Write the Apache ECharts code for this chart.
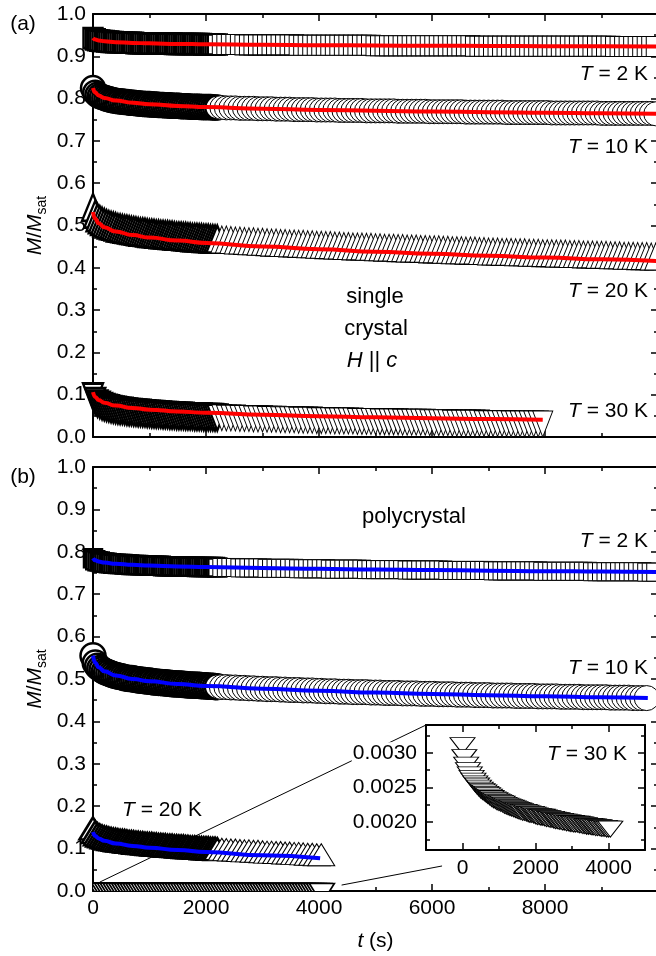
<!DOCTYPE html>
<html>
<head>
<meta charset="utf-8">
<script src="https://cdn.jsdelivr.net/npm/echarts@6/dist/echarts.min.js"></script>
<style>
  html, body { margin: 0; padding: 0; background: #fff; }
  #chart { width: 656px; height: 956px; }
</style>
</head>
<body>
<div id="chart"></div>
<script>
// ---------- sampling times (s) ----------
const tDense = [0,40,80,120,160,200,240,280,320,360,
  400,440,480,520,560,600,640,680,720,760,
  800,840,880,920,960,1000,1040,1080,1120,1160,
  1200,1240,1280,1320,1360,1400,1440,1480,1520,1560,
  1600,1640,1680,1720,1760,1800,1840,1880,1920,1960,
  2000,2040,2080,2120,2160,2200];
const tSparse = [2280,2360,2440,2520,2600,2680,2760,2840,2920,3000,
  3080,3160,3240,3320,3400,3480,3560,3640,3720,3800,
  3880,3960,4040,4120,4200,4280,4360,4440,4520,4600,
  4680,4760,4840,4920,5000,5080,5160,5240,5320,5400,
  5480,5560,5640,5720,5800,5880,5960,6040,6120,6200,
  6280,6360,6440,6520,6600,6680,6760,6840,6920,7000,
  7080,7160,7240,7320,7400,7480,7560,7640,7720,7800,
  7880,7960,8040,8120,8200,8280,8360,8440,8520,8600,
  8680,8760,8840,8920,9000,9080,9160,9240,9320,9400,
  9480,9560,9640,9720,9800,9880,9960];
const t30 = [0,50,100,150,200,250,300,350,400,450,
  500,550,600,650,700,750,800,850,900,950,
  1000,1050,1100,1150,1200,1250,1300,1350,1400,1450,
  1500,1550,1600,1650,1700,1750,1800,1850,1900,1950,
  2000,2050,2100,2150,2200,2250,2300,2350,2400,2450,
  2500,2550,2600,2650,2700,2750,2800,2850,2900,2950,
  3000,3050,3100,3150,3200,3250,3300,3350,3400,3450,
  3500,3550,3600,3650,3700,3750,3800,3850,3900,3950,
  4000,4050];

// ---------- (a) single crystal, M/Msat ----------
const sc2K_dense = [0.943,0.940,0.938,0.937,0.936,0.936,0.935,0.935,0.934,0.934,
  0.933,0.933,0.933,0.933,0.932,0.932,0.932,0.932,0.932,0.931,
  0.931,0.931,0.931,0.931,0.931,0.931,0.930,0.930,0.930,0.930,
  0.930,0.930,0.930,0.930,0.930,0.930,0.929,0.929,0.929,0.929,
  0.929,0.929,0.929,0.929,0.929,0.929,0.929,0.929,0.929,0.928,
  0.928,0.928,0.928,0.928,0.928,0.928];
const sc2K_sparse = [0.928,0.928,0.928,0.928,0.928,0.927,0.927,0.927,0.927,0.927,
  0.927,0.927,0.927,0.927,0.927,0.927,0.927,0.926,0.926,0.926,
  0.926,0.926,0.926,0.926,0.926,0.926,0.926,0.926,0.926,0.926,
  0.926,0.926,0.926,0.926,0.925,0.925,0.925,0.925,0.925,0.925,
  0.925,0.925,0.925,0.925,0.925,0.925,0.925,0.925,0.925,0.925,
  0.925,0.925,0.925,0.925,0.925,0.925,0.924,0.924,0.924,0.924,
  0.924,0.924,0.924,0.924,0.924,0.924,0.924,0.924,0.924,0.924,
  0.924,0.924,0.924,0.924,0.924,0.924,0.924,0.924,0.924,0.924,
  0.924,0.924,0.924,0.924,0.924,0.924,0.924,0.923,0.923,0.923,
  0.923,0.923,0.923,0.923,0.923,0.923,0.923];
const sc10K_dense = [0.825,0.814,0.809,0.806,0.804,0.802,0.800,0.799,0.797,0.796,
  0.795,0.794,0.794,0.793,0.792,0.792,0.791,0.790,0.790,0.789,
  0.789,0.788,0.788,0.787,0.787,0.787,0.786,0.786,0.786,0.785,
  0.785,0.785,0.784,0.784,0.784,0.783,0.783,0.783,0.783,0.782,
  0.782,0.782,0.782,0.781,0.781,0.781,0.781,0.781,0.780,0.780,
  0.780,0.780,0.780,0.779,0.779,0.779];
const sc10K_sparse = [0.779,0.778,0.778,0.778,0.777,0.777,0.777,0.777,0.776,0.776,
  0.776,0.776,0.775,0.775,0.775,0.775,0.774,0.774,0.774,0.774,
  0.774,0.773,0.773,0.773,0.773,0.773,0.772,0.772,0.772,0.772,
  0.772,0.772,0.771,0.771,0.771,0.771,0.771,0.771,0.771,0.770,
  0.770,0.770,0.770,0.770,0.770,0.770,0.769,0.769,0.769,0.769,
  0.769,0.769,0.769,0.769,0.768,0.768,0.768,0.768,0.768,0.768,
  0.768,0.768,0.768,0.767,0.767,0.767,0.767,0.767,0.767,0.767,
  0.767,0.767,0.767,0.766,0.766,0.766,0.766,0.766,0.766,0.766,
  0.766,0.766,0.766,0.766,0.765,0.765,0.765,0.765,0.765,0.765,
  0.765,0.765,0.765,0.765,0.765,0.765,0.764];
const sc20K_dense = [0.532,0.516,0.508,0.503,0.499,0.496,0.493,0.491,0.489,0.488,
  0.486,0.484,0.483,0.482,0.481,0.480,0.479,0.478,0.477,0.476,
  0.475,0.474,0.474,0.473,0.472,0.471,0.471,0.470,0.469,0.469,
  0.468,0.468,0.467,0.467,0.466,0.466,0.465,0.464,0.464,0.464,
  0.463,0.463,0.462,0.462,0.461,0.461,0.461,0.460,0.460,0.459,
  0.459,0.459,0.458,0.458,0.457,0.457];
const sc20K_sparse = [0.456,0.456,0.455,0.454,0.454,0.453,0.452,0.452,0.451,0.451,
  0.450,0.449,0.449,0.448,0.448,0.447,0.447,0.446,0.446,0.445,
  0.445,0.444,0.444,0.443,0.443,0.442,0.442,0.441,0.441,0.440,
  0.440,0.440,0.439,0.439,0.438,0.438,0.437,0.437,0.437,0.436,
  0.436,0.435,0.435,0.435,0.434,0.434,0.433,0.433,0.433,0.432,
  0.432,0.431,0.431,0.431,0.430,0.430,0.430,0.429,0.429,0.428,
  0.428,0.428,0.427,0.427,0.427,0.426,0.426,0.426,0.425,0.425,
  0.425,0.424,0.424,0.424,0.423,0.423,0.423,0.422,0.422,0.422,
  0.421,0.421,0.421,0.420,0.420,0.420,0.419,0.419,0.419,0.418,
  0.418,0.418,0.417,0.417,0.417,0.416,0.416];
const sc30K_dense = [0.106,0.095,0.089,0.086,0.083,0.081,0.079,0.078,0.076,0.075,
  0.074,0.073,0.072,0.072,0.071,0.070,0.069,0.069,0.068,0.068,
  0.067,0.067,0.066,0.066,0.065,0.065,0.064,0.064,0.063,0.063,
  0.063,0.062,0.062,0.062,0.061,0.061,0.061,0.060,0.060,0.060,
  0.060,0.059,0.059,0.059,0.059,0.058,0.058,0.058,0.058,0.057,
  0.057,0.057,0.057,0.057,0.056,0.056];
const sc30K_sparse = [0.056,0.055,0.055,0.055,0.054,0.054,0.054,0.053,0.053,0.053,
  0.052,0.052,0.052,0.051,0.051,0.051,0.051,0.050,0.050,0.050,
  0.050,0.049,0.049,0.049,0.049,0.048,0.048,0.048,0.048,0.048,
  0.047,0.047,0.047,0.047,0.047,0.046,0.046,0.046,0.046,0.046,
  0.045,0.045,0.045,0.045,0.045,0.045,0.044,0.044,0.044,0.044,
  0.044,0.043,0.043,0.043,0.043,0.043,0.043,0.043,0.042,0.042,
  0.042,0.042,0.042,0.042,0.041,0.041,0.041,0.041,0.041,0.041,
  0.041,0.041];

// ---------- (b) polycrystal, M/Msat ----------
const pc2K_dense = [0.785,0.780,0.778,0.777,0.775,0.775,0.774,0.773,0.773,0.772,
  0.772,0.771,0.771,0.771,0.770,0.770,0.770,0.769,0.769,0.769,
  0.769,0.768,0.768,0.768,0.768,0.767,0.767,0.767,0.767,0.767,
  0.767,0.766,0.766,0.766,0.766,0.766,0.766,0.766,0.765,0.765,
  0.765,0.765,0.765,0.765,0.765,0.765,0.764,0.764,0.764,0.764,
  0.764,0.764,0.764,0.764,0.764,0.763];
const pc2K_sparse = [0.763,0.763,0.763,0.763,0.762,0.762,0.762,0.762,0.762,0.762,
  0.761,0.761,0.761,0.761,0.761,0.761,0.761,0.760,0.760,0.760,
  0.760,0.760,0.760,0.760,0.759,0.759,0.759,0.759,0.759,0.759,
  0.759,0.759,0.758,0.758,0.758,0.758,0.758,0.758,0.758,0.758,
  0.758,0.757,0.757,0.757,0.757,0.757,0.757,0.757,0.757,0.757,
  0.756,0.756,0.756,0.756,0.756,0.756,0.756,0.756,0.756,0.756,
  0.755,0.755,0.755,0.755,0.755,0.755,0.755,0.755,0.755,0.755,
  0.755,0.754,0.754,0.754,0.754,0.754,0.754,0.754,0.754,0.754,
  0.754,0.754,0.753,0.753,0.753,0.753,0.753,0.753,0.753,0.753,
  0.753,0.753,0.753,0.753,0.752,0.752,0.752];
const pc10K_dense = [0.555,0.538,0.530,0.525,0.522,0.518,0.516,0.514,0.512,0.510,
  0.508,0.507,0.506,0.505,0.503,0.502,0.501,0.501,0.500,0.499,
  0.498,0.497,0.497,0.496,0.495,0.495,0.494,0.493,0.493,0.492,
  0.492,0.491,0.491,0.490,0.490,0.489,0.489,0.488,0.488,0.488,
  0.487,0.487,0.486,0.486,0.486,0.485,0.485,0.485,0.484,0.484,
  0.484,0.483,0.483,0.483,0.482,0.482];
const pc10K_sparse = [0.481,0.481,0.480,0.480,0.479,0.479,0.478,0.478,0.477,0.477,
  0.476,0.476,0.476,0.475,0.475,0.474,0.474,0.474,0.473,0.473,
  0.473,0.472,0.472,0.471,0.471,0.471,0.470,0.470,0.470,0.469,
  0.469,0.469,0.469,0.468,0.468,0.468,0.467,0.467,0.467,0.467,
  0.466,0.466,0.466,0.466,0.465,0.465,0.465,0.465,0.464,0.464,
  0.464,0.464,0.463,0.463,0.463,0.463,0.462,0.462,0.462,0.462,
  0.461,0.461,0.461,0.461,0.461,0.460,0.460,0.460,0.460,0.460,
  0.459,0.459,0.459,0.459,0.459,0.458,0.458,0.458,0.458,0.458,
  0.457,0.457,0.457,0.457,0.457,0.457,0.456,0.456,0.456,0.456,
  0.456,0.455,0.455,0.455,0.455];
const pc20K_dense = [0.139,0.130,0.125,0.122,0.120,0.118,0.117,0.115,0.114,0.113,
  0.112,0.111,0.110,0.110,0.109,0.108,0.107,0.107,0.106,0.105,
  0.105,0.104,0.104,0.103,0.103,0.102,0.102,0.101,0.101,0.100,
  0.100,0.099,0.099,0.098,0.098,0.098,0.097,0.097,0.096,0.096,
  0.096,0.095,0.095,0.094,0.094,0.094,0.093,0.093,0.093,0.092,
  0.092,0.092,0.091,0.091,0.091,0.090];
const pc20K_sparse = [0.090,0.089,0.088,0.088,0.087,0.086,0.086,0.085,0.085,0.084,
  0.083,0.083,0.082,0.082,0.081,0.081,0.080,0.080,0.079,0.078,
  0.078,0.077,0.077];
const pc30K = [0.00314,0.00297,0.00286,0.00278,0.00272,0.00267,0.00263,0.00259,0.00256,0.00253,
  0.00250,0.00248,0.00246,0.00244,0.00242,0.00240,0.00238,0.00236,0.00235,0.00233,
  0.00232,0.00231,0.00230,0.00228,0.00227,0.00226,0.00225,0.00224,0.00223,0.00222,
  0.00221,0.00220,0.00219,0.00218,0.00218,0.00217,0.00216,0.00215,0.00215,0.00214,
  0.00213,0.00212,0.00212,0.00211,0.00211,0.00210,0.00209,0.00209,0.00208,0.00208,
  0.00207,0.00206,0.00206,0.00205,0.00205,0.00204,0.00204,0.00203,0.00203,0.00202,
  0.00202,0.00201,0.00201,0.00201,0.00200,0.00200,0.00199,0.00199,0.00198,0.00198,
  0.00198,0.00197,0.00197,0.00196,0.00196,0.00196,0.00195,0.00195,0.00195,0.00194,
  0.00194,0.00194];

// ---------- relaxation fits ----------
const fitT = [0,40,100,200,400,700,1000,1500,2000,3000,4000,5000,6000,7000,8000,9000,10000];
const fitSc2K = [0.9433,0.9398,0.9375,0.9356,0.9335,0.9317,0.9306,0.9293,0.9284,0.9271,0.9262,0.9255,0.9249,0.9244,0.9239,0.9236,0.9232];
const fitSc10K = [0.825,0.8143,0.8075,0.8016,0.7953,0.7901,0.7867,0.7828,0.7800,0.7761,0.7733,0.7711,0.7694,0.7679,0.7666,0.7654,0.7644];
const fitSc20K = [0.532,0.5157,0.5052,0.4960,0.4859,0.4773,0.4714,0.4643,0.4589,0.4505,0.4439,0.4382,0.4331,0.4285,0.4241,0.4200,0.4160];
const fitSc30KT = [0,40,100,200,400,700,1000,1500,2000,3000,4000,5000,6000,7000,7960];
const fitSc30K = [0.106,0.0946,0.0873,0.0810,0.0742,0.0685,0.0647,0.0604,0.0572,0.0526,0.0492,0.0465,0.0442,0.0423,0.0405];
const fitPc2K = [0.785,0.7803,0.7772,0.7746,0.7717,0.7692,0.7675,0.7655,0.7639,0.7616,0.7598,0.7582,0.7569,0.7556,0.7544,0.7533,0.7523];
const fitPc10KT = [0,40,100,200,400,700,1000,1500,2000,3000,4000,5000,6000,7000,8000,9000,9820];
const fitPc10K = [0.555,0.5383,0.5277,0.5184,0.5085,0.5001,0.4946,0.4883,0.4837,0.4769,0.4720,0.4680,0.4647,0.4617,0.4591,0.4567,0.4549];
const fitPc20KT = [0,40,100,200,400,700,1000,1500,2000,3000,4020];
const fitPc20K = [0.139,0.1298,0.1239,0.1184,0.1122,0.1064,0.1022,0.0966,0.0920,0.0841,0.0770];

// ---------- axis ticks ----------
const mainYMax = 1, mainYStep = 0.1, mainXMax = 10000, mainXStep = 2000;
const insetX = { min: -1000, max: 5000, major: [0, 2000, 4000], step: 1000 };
const insetY = { min: 0.0016, max: 0.0034, major: [0.0020, 0.0025, 0.0030], minor: [0.00175, 0.00225, 0.00275, 0.00325] };

// ---------- drawing ----------
const FONT = 'Arial, "Liberation Sans", Helvetica, sans-serif';
const FS = 21;
const pts = (t, v) => v.map((y, i) => [t[i], y]);
const tickLine = { color: '#000', width: 1.5 };
const labelStyle = { show: true, color: '#000', fontSize: FS, fontFamily: FONT };
const italic = { fontStyle: 'italic', fontSize: FS, fontFamily: FONT, color: '#000' };
const plainNum = v => String(v);

function axis(extra) {
  return Object.assign({
    type: 'value',
    axisLine: { show: true, onZero: false, lineStyle: { color: '#000', width: 2 } },
    axisTick: { show: true, inside: true, length: 7, lineStyle: tickLine },
    minorTick: { show: true, splitNumber: 2, length: 4, lineStyle: tickLine },
    splitLine: { show: false },
    minorSplitLine: { show: false },
    axisLabel: { show: false },
    nameMoveOverlap: false
  }, extra);
}
const noLine = { show: false, onZero: false };

const yName = {
  name: '{i|M}{n|/}{i|M}{s|sat}',
  nameLocation: 'middle', nameRotate: 90, nameGap: 44,
  nameTextStyle: {
    color: '#000', fontSize: FS, fontFamily: FONT,
    rich: {
      i: Object.assign({ lineHeight: 28 }, italic),
      n: { fontSize: FS, fontFamily: FONT, color: '#000', lineHeight: 28 },
      s: { fontSize: 14, fontFamily: FONT, color: '#000', lineHeight: 10, verticalAlign: 'bottom' }
    }
  }
};

const mainX = { min: 0, max: mainXMax, interval: mainXStep };
const mainY = { min: 0, max: mainYMax, interval: mainYStep };

const xAxes = [
  axis(Object.assign({ gridIndex: 0, position: 'bottom' }, mainX)),
  axis(Object.assign({ gridIndex: 0, position: 'top' }, mainX)),
  axis(Object.assign({ gridIndex: 1, position: 'bottom',
    axisLabel: Object.assign({ margin: 7, showMaxLabel: false, formatter: plainNum }, labelStyle),
    name: '{i|t} (s)', nameLocation: 'middle', nameGap: 40,
    nameTextStyle: { color: '#000', fontSize: FS, fontFamily: FONT, rich: { i: italic } } }, mainX)),
  axis(Object.assign({ gridIndex: 1, position: 'top' }, mainX)),
  // inset
  axis({ gridIndex: 2, position: 'bottom', min: insetX.min, max: insetX.max, interval: insetX.step, z: 10,
    axisTick: { show: true, inside: true, length: 4, lineStyle: tickLine }, minorTick: { show: false } }),
  axis({ gridIndex: 2, position: 'bottom', min: insetX.min, max: insetX.max, axisLine: noLine, z: 10,
    axisTick: { show: true, inside: true, length: 7, lineStyle: tickLine, customValues: insetX.major },
    minorTick: { show: false },
    axisLabel: Object.assign({ margin: 8, customValues: insetX.major, formatter: plainNum }, labelStyle) }),
  axis({ gridIndex: 2, position: 'top', min: insetX.min, max: insetX.max, interval: insetX.step, z: 10,
    axisTick: { show: true, inside: true, length: 4, lineStyle: tickLine }, minorTick: { show: false } }),
  axis({ gridIndex: 2, position: 'top', min: insetX.min, max: insetX.max, axisLine: noLine, z: 10,
    axisTick: { show: true, inside: true, length: 7, lineStyle: tickLine, customValues: insetX.major },
    minorTick: { show: false } })
];

const yAxes = [
  axis(Object.assign({ gridIndex: 0, position: 'left',
    axisLabel: Object.assign({ margin: 7, formatter: v => v.toFixed(1) }, labelStyle) }, mainY, yName)),
  axis(Object.assign({ gridIndex: 0, position: 'right' }, mainY)),
  axis(Object.assign({ gridIndex: 1, position: 'left',
    axisLabel: Object.assign({ margin: 7, formatter: v => v.toFixed(1) }, labelStyle) }, mainY, yName)),
  axis(Object.assign({ gridIndex: 1, position: 'right' }, mainY)),
  // inset
  axis({ gridIndex: 2, position: 'left', min: insetY.min, max: insetY.max, z: 10,
    axisTick: { show: true, inside: true, length: 4, lineStyle: tickLine, customValues: insetY.minor }, minorTick: { show: false } }),
  axis({ gridIndex: 2, position: 'left', min: insetY.min, max: insetY.max, axisLine: noLine, z: 10,
    axisTick: { show: true, inside: true, length: 7, lineStyle: tickLine, customValues: insetY.major }, minorTick: { show: false },
    axisLabel: Object.assign({ margin: 8, customValues: insetY.major, formatter: v => v.toFixed(4),
      backgroundColor: '#fff', padding: [0, 1, 0, 1] }, labelStyle) }),
  axis({ gridIndex: 2, position: 'right', min: insetY.min, max: insetY.max, z: 10,
    axisTick: { show: true, inside: true, length: 4, lineStyle: tickLine, customValues: insetY.minor }, minorTick: { show: false } }),
  axis({ gridIndex: 2, position: 'right', min: insetY.min, max: insetY.max, axisLine: noLine, z: 10,
    axisTick: { show: true, inside: true, length: 7, lineStyle: tickLine, customValues: insetY.major }, minorTick: { show: false } })
];

function markers(xi, yi, data, symbol, size, opt) {
  return Object.assign({
    type: 'scatter', xAxisIndex: xi, yAxisIndex: yi, data,
    symbol, symbolSize: size,
    itemStyle: { color: '#fff', borderColor: '#000', borderWidth: 1, opacity: 1 },
    emphasis: { disabled: true }, silent: true, clip: true, z: 2
  }, opt || {});
}
const dense = { itemStyle: { color: '#fff', borderColor: '#000', borderWidth: 2.5, opacity: 1 } };
function up(h) { return { symbolOffset: [0, -h / 6] }; }
function down(h) { return { symbolRotate: 180, symbolOffset: [0, h / 6] }; }

function fit(xi, yi, t, v, color) {
  return {
    type: 'line', xAxisIndex: xi, yAxisIndex: yi, data: pts(t, v),
    symbol: 'none', showSymbol: false, smooth: true, smoothMonotone: 'x',
    lineStyle: { color, width: 4 }, emphasis: { disabled: true }, silent: true, z: 3
  };
}

const RED = '#ff0000', BLUE = '#0000ff';
const sqA = [19, 20], ciA = 24, upA = [22, 27], dnA = [20, 26];
const sqB = [18, 18], ciB = 25, upB = [27, 22], dnB = [25, 20], dnIn = [25, 16];

const series = [
  // (a)
  markers(0, 0, pts(tDense, sc2K_dense), 'rect', sqA, dense),
  markers(0, 0, pts(tSparse, sc2K_sparse), 'rect', sqA),
  markers(0, 0, pts(tDense, sc10K_dense), 'circle', ciA, dense),
  markers(0, 0, pts(tSparse, sc10K_sparse), 'circle', ciA),
  markers(0, 0, pts(tDense, sc20K_dense), 'triangle', upA, Object.assign({}, dense, up(upA[1]))),
  markers(0, 0, pts(tSparse, sc20K_sparse), 'triangle', upA, up(upA[1])),
  markers(0, 0, pts(tDense, sc30K_dense), 'triangle', dnA, Object.assign({}, dense, down(dnA[1]))),
  markers(0, 0, pts(tSparse, sc30K_sparse), 'triangle', dnA, down(dnA[1])),
  fit(0, 0, fitT, fitSc2K, RED),
  fit(0, 0, fitT, fitSc10K, RED),
  fit(0, 0, fitT, fitSc20K, RED),
  fit(0, 0, fitSc30KT, fitSc30K, RED),
  // (b)
  markers(2, 2, pts(tDense, pc2K_dense), 'rect', sqB, dense),
  markers(2, 2, pts(tSparse, pc2K_sparse), 'rect', sqB),
  markers(2, 2, pts(tDense, pc10K_dense), 'circle', ciB, dense),
  markers(2, 2, pts(tSparse, pc10K_sparse), 'circle', ciB),
  markers(2, 2, pts(tDense, pc20K_dense), 'triangle', upB, Object.assign({}, dense, up(upB[1]))),
  markers(2, 2, pts(tSparse, pc20K_sparse), 'triangle', upB, up(upB[1])),
  {
    // 30 K polycrystal: down-triangles clipped at the plot frame
    type: 'custom', xAxisIndex: 2, yAxisIndex: 2, data: pts(t30, pc30K),
    clip: true, silent: true, z: 2,
    renderItem(params, api) {
      const p = api.coord([api.value(0), api.value(1)]);
      const w = dnB[0], h = dnB[1], top = p[1] - h / 3;
      return {
        type: 'polygon',
        shape: { points: [[p[0] - w / 2, top], [p[0] + w / 2, top], [p[0], top + h]] },
        style: { fill: '#fff', stroke: '#000', lineWidth: 1.7 }
      };
    }
  },
  fit(2, 2, fitT, fitPc2K, BLUE),
  fit(2, 2, fitPc10KT, fitPc10K, BLUE),
  fit(2, 2, fitPc20KT, fitPc20K, BLUE),
  // inset
  markers(4, 4, pts(t30, pc30K), 'triangle', dnIn, Object.assign({ z: 6 }, down(dnIn[1])))
];

const chart = echarts.init(document.getElementById('chart'), null, { renderer: 'canvas' });
chart.setOption({
  animation: false,
  backgroundColor: '#fff',
  textStyle: { fontFamily: FONT },
  grid: [
    { left: 93, top: 14, right: -2, height: 423, outerBoundsMode: 'none', containLabel: false },
    { left: 93, top: 467, right: -2, height: 424, outerBoundsMode: 'none', containLabel: false },
    { left: 426, top: 725, width: 219, height: 125, outerBoundsMode: 'none', containLabel: false,
      show: true, backgroundColor: '#fff', borderWidth: 0, z: 4 }
  ],
  xAxis: xAxes,
  yAxis: yAxes,
  series
});

// ---------- annotations ----------
function text(x, y, str, align, size) {
  const fs = size || FS;
  return {
    type: 'text', x, y, z: 20, silent: true,
    style: {
      text: str, align: align || 'center', verticalAlign: 'middle',
      fill: '#000', fontSize: fs, fontFamily: FONT,
      rich: { i: { fontStyle: 'italic', fontSize: fs, fontFamily: FONT, fill: '#000' } }
    }
  };
}
const toMain = v => chart.convertToPixel({ xAxisIndex: 2, yAxisIndex: 2 }, v);
const toInset = v => chart.convertToPixel({ xAxisIndex: 4, yAxisIndex: 4 }, v);
const c1a = toMain([120, 0.021]), c1b = toInset([insetX.min, insetY.max]);
const c2a = toMain([4400, 0.014]), c2b = toInset([-560, 0.00137]);
function connector(a, b) {
  return { type: 'line', z: 1, silent: true,
    shape: { x1: a[0], y1: a[1], x2: b[0], y2: b[1] },
    style: { stroke: '#000', lineWidth: 1 } };
}

chart.setOption({
  graphic: [
    connector(c1a, c1b),
    connector(c2a, c2b),
    text(23, 24, '(a)'),
    text(23, 477, '(b)'),
    text(648, 74, '{i|T} = 2 K', 'right'),
    text(648, 147, '{i|T} = 10 K', 'right'),
    text(648, 291, '{i|T} = 20 K', 'right'),
    text(648, 411, '{i|T} = 30 K', 'right'),
    text(375, 297, 'single', 'center', 22),
    text(376, 329, 'crystal', 'center', 22),
    text(372, 361, '{i|H} || {i|c}', 'center', 22),
    text(414, 517, 'polycrystal', 'center', 22),
    text(648, 541, '{i|T} = 2 K', 'right'),
    text(648, 668, '{i|T} = 10 K', 'right'),
    text(122, 810, '{i|T} = 20 K', 'left'),
    text(627, 754, '{i|T} = 30 K', 'right')
  ]
});
</script>
</body>
</html>
